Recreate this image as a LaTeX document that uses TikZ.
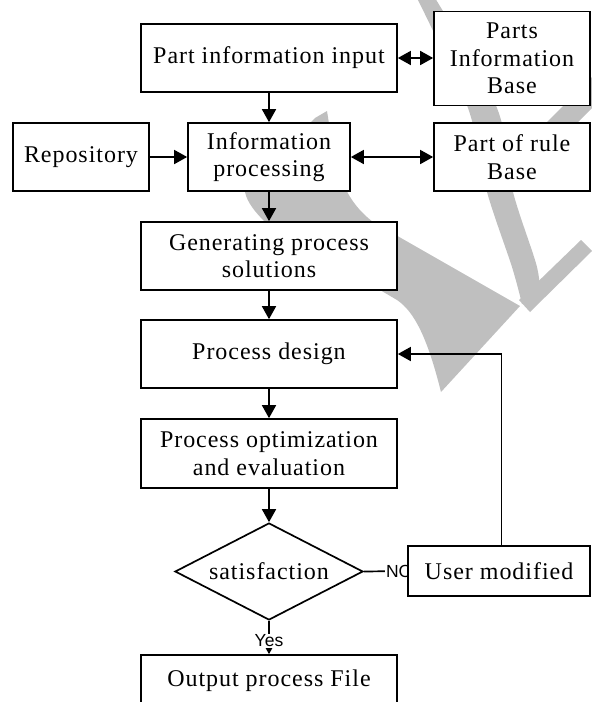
\documentclass[tikz,border=0pt]{standalone}
\usepackage{fontspec}
\setmainfont{Liberation Serif}[LetterSpace=4]
\newfontfamily\tagfont{Liberation Sans}
\usetikzlibrary{arrows.meta,shapes.geometric}
\pgfdeclarelayer{mark}
\pgfdeclarelayer{under}
\pgfsetlayers{mark,under,main}

\begin{document}
\begin{tikzpicture}[x=1pt,y=-1pt,
  edgewidth/.style={line width=1.7pt},
  box/.style={draw, edgewidth, fill=white, inner sep=0pt, align=center,
    font=\fontsize{24}{27.5}\selectfont},
  decision/.style={box, diamond, aspect=2},
  flow/.style={edgewidth, -{Triangle[length=13pt,width=14pt]}},
  twoway/.style={edgewidth, {Triangle[length=13pt,width=14pt]}-{Triangle[length=13pt,width=14pt]}},
  tag/.style={fill=white, inner sep=1pt, font=\tagfont\fontsize{17.5}{20}\selectfont},
  wm/.style={fill=black!25}
]
\useasboundingbox (0,0) rectangle (592,702);

% boxes
\node[box, minimum width=256pt, minimum height=68pt] (input) at (269,58) {Part information input};
\node[box, minimum width=156pt, minimum height=94pt] (pib) at (512,58.5) {Parts\\Information\\Base};
\node[box, minimum width=136pt, minimum height=68pt] (repo) at (81,157) {Repository};
\node[box, minimum width=162pt, minimum height=68pt] (iproc) at (269,157) {Information\\processing};
\node[box, minimum width=156pt, minimum height=68pt] (rule) at (512,157) {Part of rule\\Base};
\node[box, minimum width=256pt, minimum height=68pt] (gen) at (269,256) {Generating process\\solutions};
\node[box, minimum width=256pt, minimum height=68pt] (design) at (269,354) {Process design};
\node[box, minimum width=256pt, minimum height=69pt] (opt) at (269,453.5) {Process optimization\\and evaluation};
\node[decision, minimum width=188pt, minimum height=97pt] (sat) at (269,571.5) {satisfaction};
\node[box, minimum width=182pt, minimum height=50pt] (user) at (499,571) {User modified};
\node[box, minimum width=256pt, minimum height=52pt] (out) at (269,681) {Output process File};

% connectors
\draw[twoway] (input.east) -- (input.east -| pib.west);
\draw[flow] (input) -- (iproc);
\draw[flow] (repo) -- (iproc);
\draw[twoway] (iproc) -- (rule);
\draw[flow] (iproc) -- (gen);
\draw[flow] (gen) -- (design);
\draw[flow] (design) -- (opt);
\draw[flow] (opt) -- (sat);
\draw[flow] (sat) -- node[tag, pos=0.6] {Yes} (out);
\draw[flow] ([xshift=2.5pt]user.north) |- (design.east);

\begin{pgfonlayer}{under}
\draw[edgewidth] (sat.east) -- node[tag, pos=0.47, anchor=west] {NO} (user.west);
\end{pgfonlayer}

% watermark strokes
\begin{pgfonlayer}{mark}
\fill[wm] (315,118) -- (327,111) .. controls (335,160) and (338,195) .. (373,222)
  -- (520,306) -- (441,392) .. controls (428,340) and (415,312) .. (397,300)
  -- (265,222) .. controls (255,212) and (247,202) .. (245,192) -- cycle;
\fill[wm] plot[smooth] coordinates {(417,-2) (468,108) (487,192) (512,267) (522,304)}
  -- plot[smooth] coordinates {(540,300) (537,267) (513,192) (497,108) (435,-2)} -- cycle;
\fill[wm] (519,300) -- (581,240) -- (592,251) -- (530,312) -- cycle;
\fill[wm] (597,72) -- (612,88) -- (522,178) -- (507,162) -- cycle;
\end{pgfonlayer}
\end{tikzpicture}
\end{document}
